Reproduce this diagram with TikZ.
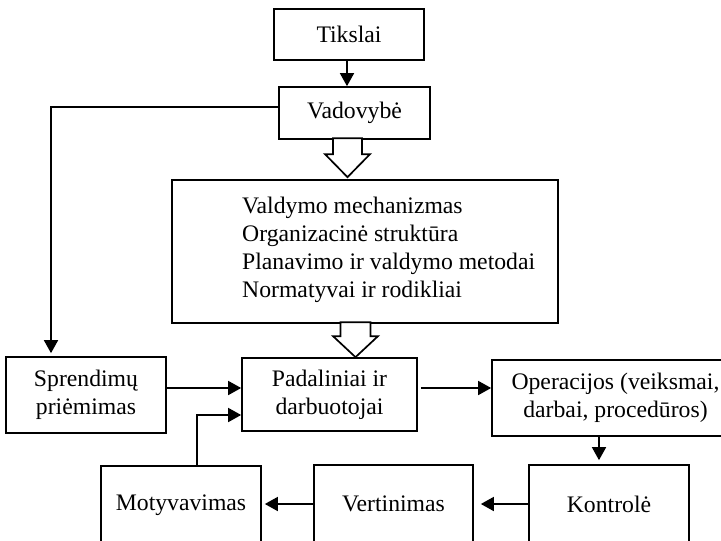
\documentclass[tikz,border=0pt]{standalone}
\usepackage{fontspec}
\setmainfont{Liberation Serif}
\usetikzlibrary{arrows.meta,calc}
\begin{document}
\begin{tikzpicture}[x=1pt,y=-1pt,
  box/.style={draw,line width=1.7pt,inner sep=0pt,align=center,
    font=\fontsize{23.7}{28}\selectfont},
  txt/.style={inner sep=0pt,align=center,font=\fontsize{23.7}{28}\selectfont},
  arr/.style={line width=1.7pt,-{Triangle[length=13pt,width=14pt]}},
  hollow/.style={draw,line width=1.7pt,fill=white,line join=miter}]
\clip (0,0) rectangle (721,541);
\fill[white] (0,0) rectangle (721,541);

% boxes
\node[box,minimum width=150pt,minimum height=51pt] (tik) at (349,34.5) {Tikslai};
\node[box,minimum width=151pt,minimum height=52pt] (vad) at (354.5,113) {Vadovybė};
\node[box,minimum width=386pt,minimum height=143pt] (mech) at (365,251.5) {};
\node[txt,anchor=west,align=left]
  (mechtext) at (242,250) {Valdymo mechanizmas\\Organizacinė struktūra\\Planavimo ir valdymo metodai\\Normatyvai ir rodikliai};
\node[box,minimum width=160pt,minimum height=76pt] (spr) at (86,395) {Sprendimų\\priėmimas};
\node[box,minimum width=175pt,minimum height=73pt] (pad) at (329.5,394.5) {Padaliniai ir\\darbuotojai};
\node[box,minimum width=300pt,minimum height=76pt] (op) at (642,398) {};
\node[txt] (optext) at (615.5,398) {Operacijos (veiksmai,\\darbai, procedūros)};
\node[box,minimum width=160pt,minimum height=78pt] (kon) at (609,504) {Kontrolė};
\node[box,minimum width=159pt,minimum height=78pt] (vert) at (393.5,504) {Vertinimas};
\node[box,minimum width=160pt,minimum height=78pt] (mot) at (181,505) {Motyvavimas};

% plain arrows
\draw[arr] ([xshift=-2pt]tik.south) -- ([xshift=-2pt]tik.south |- vad.north);
\draw[arr] ([yshift=6pt]vad.west) -| ([xshift=-35pt,yshift=3pt]spr.north);
\draw[arr] ([yshift=7pt]spr.east) -- ([yshift=7pt]spr.east -| pad.west);
\draw[arr] ([xshift=16pt]mot.north) |- ([yshift=-20.5pt]pad.west);
\draw[arr,shorten <=3pt] ([yshift=6.5pt]pad.east) -- ([yshift=6.5pt]pad.east -| op.west);
\draw[arr,shorten >=4pt] ([xshift=-10pt]kon.north |- op.south) -- ([xshift=-10pt]kon.north);
\draw[arr,shorten >=7pt] (kon.west) -- (kon.west -| vert.east);
\draw[arr,shorten >=3pt] (vert.west) -- (vert.west -| mot.east);

% hollow block arrows
\coordinate (t1) at ([xshift=-17.5pt,yshift=2pt]mech.north);
\draw[hollow] (t1) -- ++(-22.5,-23) -- ++(8,0) -- ++(0,-16) -- ++(29,0)
  -- ++(0,16) -- ++(8,0) -- cycle;
\coordinate (t2) at ([xshift=26pt]pad.north);
\draw[hollow] (t2) -- ++(-22.5,-21) -- ++(7.5,0) -- ++(0,-14) -- ++(30,0)
  -- ++(0,14) -- ++(7.5,0) -- cycle;
\end{tikzpicture}
\end{document}
